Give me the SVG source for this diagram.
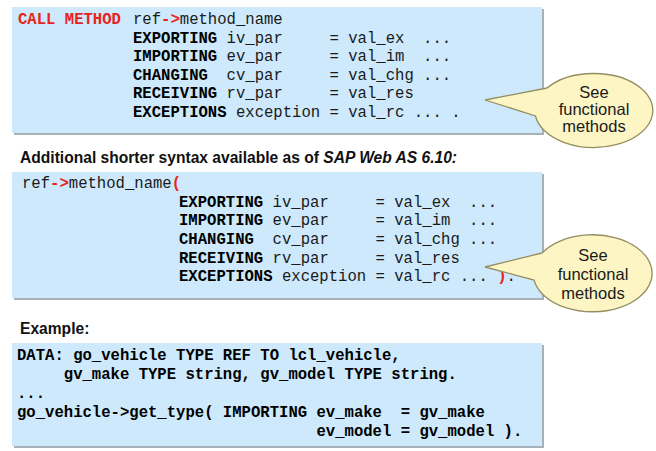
<svg xmlns="http://www.w3.org/2000/svg" width="656" height="451" viewBox="0 0 656 451">
<style>
.bg{fill:#ffffff}
.shadow{fill:#a7b1ba}
.box{fill:#cde9fb}
.code{font-family:"Liberation Mono","Courier New",monospace;font-size:15.6px;fill:#1a1a1a}
.b{font-weight:bold;fill:#000}
.red{font-weight:bold;fill:#e8231d}
.head{font-family:"Liberation Sans",Arial,sans-serif;font-size:15.6px;font-weight:bold;fill:#111}
.it{font-style:italic}
.callout{fill:#fdf5c4;stroke:#948d60;stroke-width:1.3}
.ctext{font-family:"Liberation Sans",Arial,sans-serif;font-size:16.5px;fill:#1a1a1a;text-anchor:middle}
</style>
<rect class="bg" x="0" y="0" width="656" height="451"/>

<g id="box1">
<rect class="shadow" x="14" y="9" width="530" height="126"/>
<rect class="box" x="12" y="7" width="530" height="126"/>
<text class="code" x="18" y="24"><tspan class="red">CALL METHOD</tspan></text>
<text class="code" x="133" y="24">ref<tspan class="red">-&gt;</tspan>method_name</text>
<text class="code" x="133" y="42.5" xml:space="preserve"><tspan class="b">EXPORTING</tspan> iv_par     = val_ex  ...</text>
<text class="code" x="133" y="61" xml:space="preserve"><tspan class="b">IMPORTING</tspan> ev_par     = val_im  ...</text>
<text class="code" x="133" y="79.5" xml:space="preserve"><tspan class="b">CHANGING</tspan>  cv_par     = val_chg ...</text>
<text class="code" x="133" y="98" xml:space="preserve"><tspan class="b">RECEIVING</tspan> rv_par     = val_res</text>
<text class="code" x="133" y="116.5" xml:space="preserve"><tspan class="b">EXCEPTIONS</tspan> exception = val_rc ... .</text>
</g>

<g id="callout1">
<path class="callout" d="M547,88 L485,100 L535.5,116 A59,37 0 1 0 547,88 Z"/>
<text class="ctext" x="594" y="98">See</text>
<text class="ctext" x="594" y="115">functional</text>
<text class="ctext" x="594" y="132">methods</text>
</g>

<g id="heading1">
<text class="head" x="20" y="163">Additional shorter syntax available as of <tspan class="it">SAP Web AS 6.10:</tspan></text>
</g>

<g id="box2">
<rect class="shadow" x="14" y="174" width="530" height="126"/>
<rect class="box" x="12" y="172" width="530" height="126"/>
<text class="code" x="22" y="188">ref<tspan class="red">-&gt;</tspan>method_name<tspan class="red">(</tspan></text>
<text class="code" x="179" y="206.7" xml:space="preserve"><tspan class="b">EXPORTING</tspan> iv_par     = val_ex  ...</text>
<text class="code" x="179" y="225.3" xml:space="preserve"><tspan class="b">IMPORTING</tspan> ev_par     = val_im  ...</text>
<text class="code" x="179" y="244" xml:space="preserve"><tspan class="b">CHANGING</tspan>  cv_par     = val_chg ...</text>
<text class="code" x="179" y="262.7" xml:space="preserve"><tspan class="b">RECEIVING</tspan> rv_par     = val_res</text>
<text class="code" x="179" y="281.4" xml:space="preserve"><tspan class="b">EXCEPTIONS</tspan> exception = val_rc ... <tspan class="red">)</tspan>.</text>
</g>

<g id="callout2">
<path class="callout" d="M542,253 L485,267 L534,280 A59.5,38.5 0 1 0 542,253 Z"/>
<text class="ctext" x="593" y="261">See</text>
<text class="ctext" x="593" y="280">functional</text>
<text class="ctext" x="593" y="299">methods</text>
</g>

<g id="heading2">
<text class="head" x="20" y="334">Example:</text>
</g>

<g id="box3">
<rect class="shadow" x="14" y="345" width="530" height="103"/>
<rect class="box" x="12" y="343" width="530" height="103"/>
<text class="code b" x="17" y="360" xml:space="preserve">DATA: go_vehicle TYPE REF TO lcl_vehicle,</text>
<text class="code b" x="17" y="379" xml:space="preserve">     gv_make TYPE string, gv_model TYPE string.</text>
<text class="code b" x="17" y="398" xml:space="preserve">...</text>
<text class="code b" x="17" y="417" xml:space="preserve">go_vehicle-&gt;get_type( IMPORTING ev_make  = gv_make</text>
<text class="code b" x="17" y="436" xml:space="preserve">                                ev_model = gv_model ).</text>
</g>

<g id="connectors"></g>
</svg>
